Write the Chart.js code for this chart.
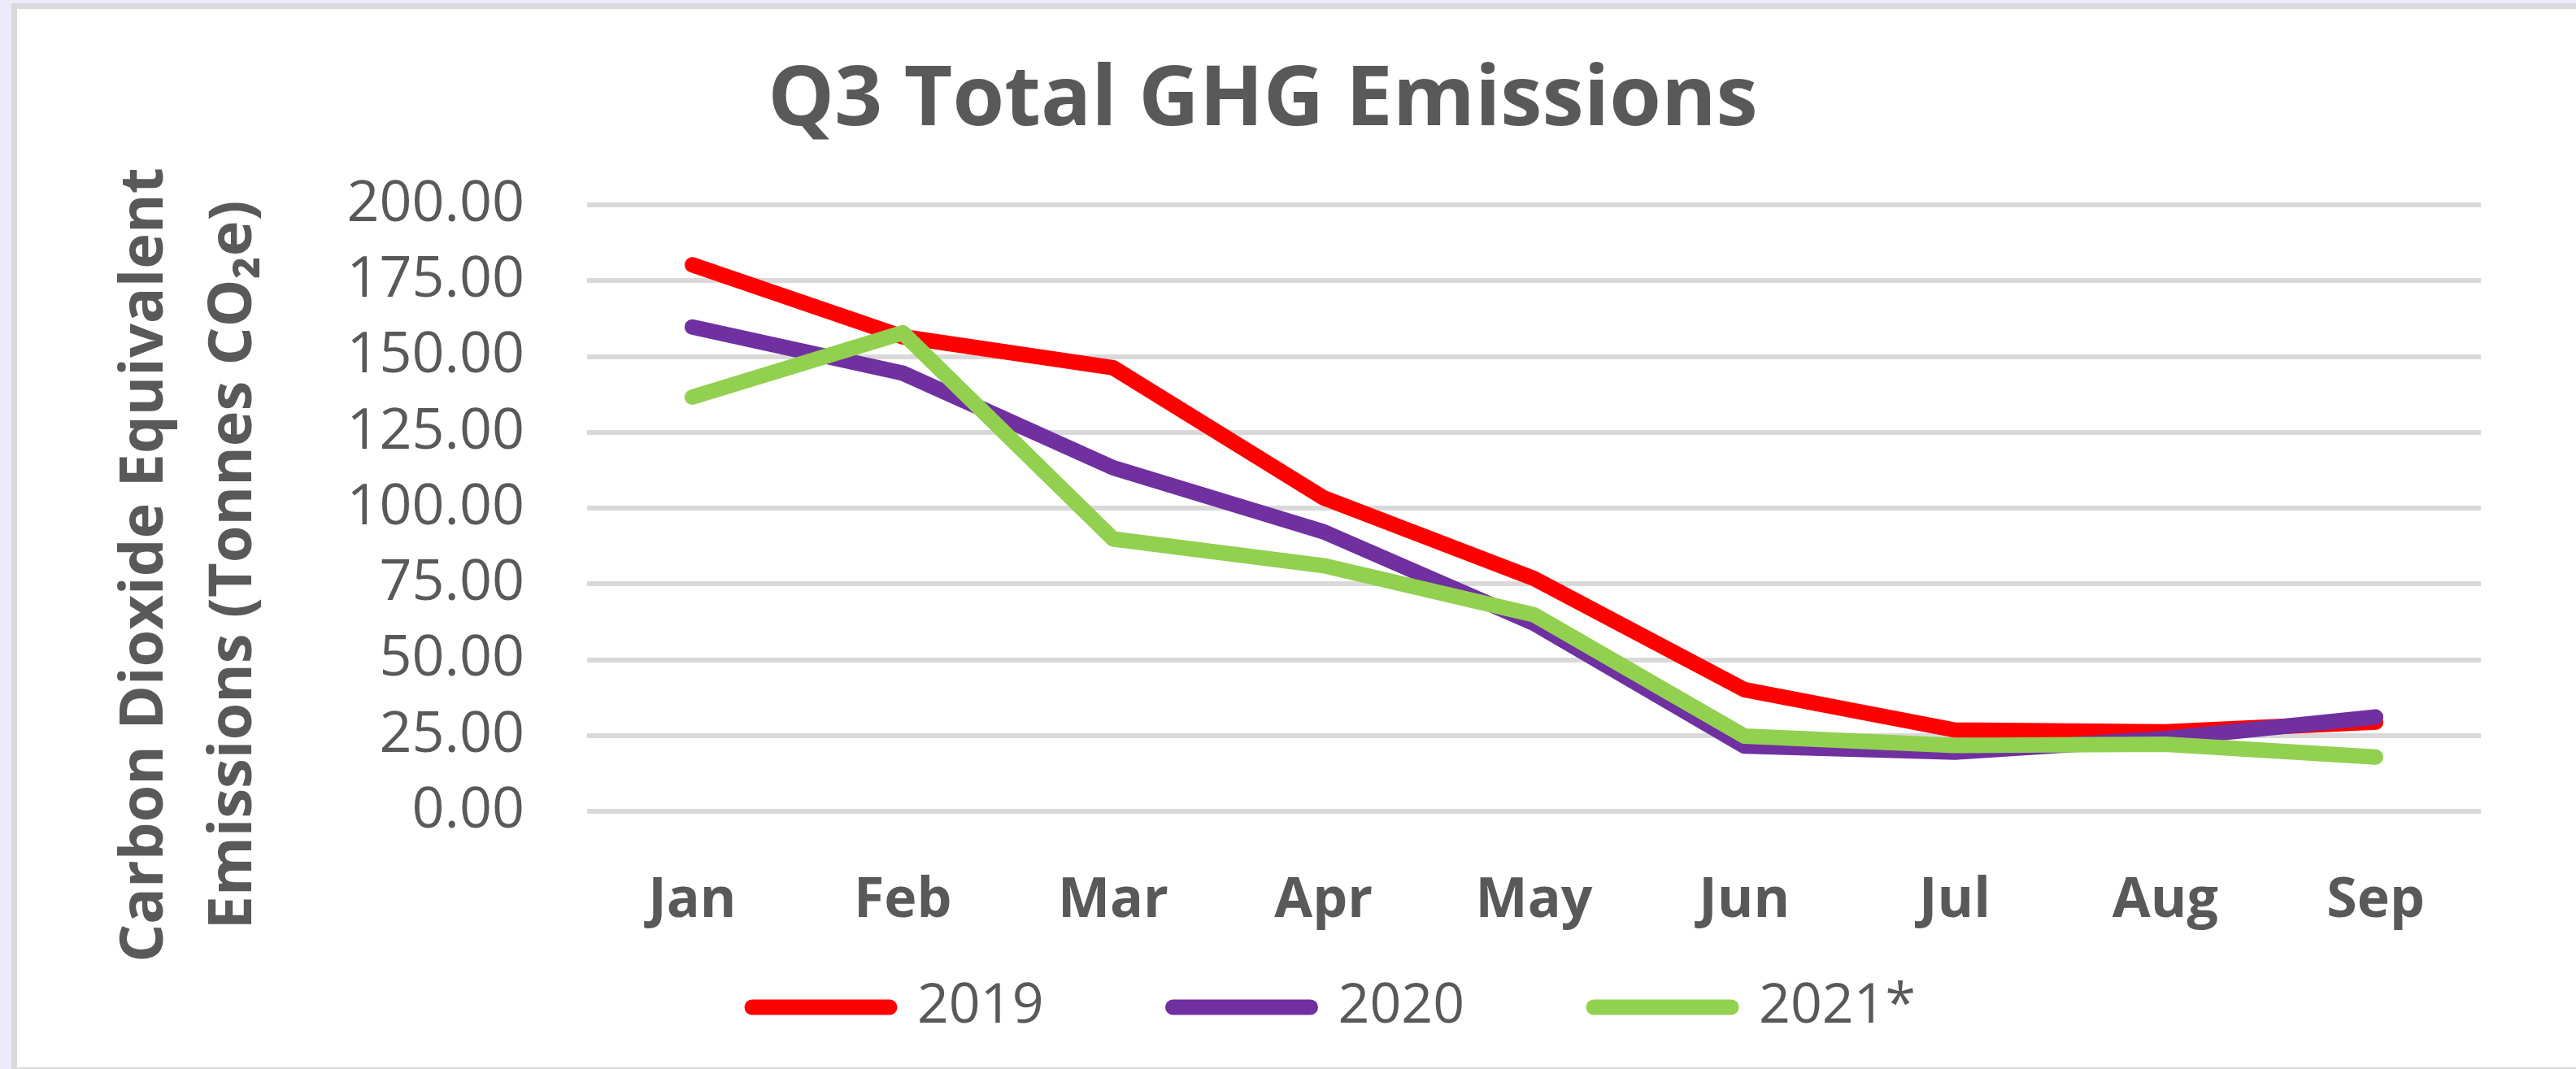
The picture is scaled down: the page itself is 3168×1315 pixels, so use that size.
<!DOCTYPE html>
<html>
<head>
<meta charset="utf-8">
<script src="https://cdn.jsdelivr.net/npm/chart.js@4.4.1/dist/chart.umd.min.js"></script>
<style>
  html, body { margin: 0; padding: 0; background: #ffffff; }
  #wrap { width: 3168px; height: 1315px; }
</style>
</head>
<body>
<div id="wrap"><canvas id="c" width="3168" height="1315"></canvas></div>
<script>
// ---- data ----
const months = ['Jan', 'Feb', 'Mar', 'Apr', 'May', 'Jun', 'Jul', 'Aug', 'Sep'];
const seriesNames = ['2019', '2020', '2021*'];
const values2019 = [180.2, 156.5, 146.3, 103.4, 76.8, 40.1, 26.8, 26.2, 29.4];
const values2020 = [159.7, 144.5, 113.3, 92.2, 62.0, 21.5, 19.5, 24.0, 31.1];
const values2021 = [136.6, 157.8, 89.8, 81.0, 64.8, 24.8, 21.7, 22.1, 17.9];
const yTicks = [0, 25, 50, 75, 100, 125, 150, 175, 200];
const chartTitle = 'Q3 Total GHG Emissions';
const yTitleLines = ['Carbon Dioxide Equivalent', 'Emissions (Tonnes CO\u2082e)'];

// ---- styles ----
const TEXT = '#595959';
const FONT = '"Open Sans", "Noto Sans", sans-serif';
const colors = ['#FF0000', '#7030A0', '#92D050'];
const drawOrder = [3, 2, 1];
const LINE_W = 19;

const frame = {
  id: 'frame',
  beforeDraw(chart) {
    const ctx = chart.ctx;
    ctx.save();
    ctx.fillStyle = '#EBEBFC';
    ctx.fillRect(0, 0, chart.width, chart.height);
    ctx.fillStyle = '#D9D9D9';
    ctx.fillRect(14, 4, chart.width - 14, chart.height - 4);
    ctx.fillStyle = '#FFFFFF';
    ctx.fillRect(21, 11, chart.width - 21, chart.height - 13);
    ctx.restore();
  }
};

// let the x tick labels draw below the (deliberately short) x-axis box
const labelRoom = {
  id: 'labelRoom',
  afterLayout(chart) {
    const s = chart.scales.x;
    s.bottom = s.top + 200;
  }
};

const texts = {
  id: 'texts',
  afterDraw(chart) {
    const ctx = chart.ctx;
    ctx.save();
    ctx.fillStyle = TEXT;
    ctx.textAlign = 'center';
    ctx.textBaseline = 'alphabetic';
    ctx.font = 'bold 103px ' + FONT;
    ctx.fillText(chartTitle, 1553, 154);
    ctx.font = 'bold 74px ' + FONT;
    const baselines = [200, 309];
    yTitleLines.forEach((t, i) => {
      ctx.save();
      ctx.translate(baselines[i], 695);
      ctx.rotate(-Math.PI / 2);
      ctx.fillText(t, 0, 0);
      ctx.restore();
    });
    ctx.restore();
  }
};

const allValues = [values2019, values2020, values2021];

new Chart(document.getElementById('c'), {
  type: 'line',
  data: {
    labels: months,
    datasets: seriesNames.map((name, i) => ({
      label: name,
      data: allValues[i],
      borderColor: colors[i],
      backgroundColor: colors[i],
      borderWidth: LINE_W,
      borderCapStyle: 'round',
      borderJoinStyle: 'round',
      pointRadius: 0,
      pointHoverRadius: 0,
      tension: 0,
      fill: false,
      order: drawOrder[i]
    }))
  },
  options: {
    responsive: false,
    animation: false,
    devicePixelRatio: 1,
    layout: { padding: { left: 230, right: 117, top: 252, bottom: 32 } },
    scales: {
      x: {
        offset: true,
        grid: { display: false, drawTicks: false },
        border: { display: false },
        ticks: {
          color: TEXT,
          padding: 70,
          font: { family: FONT, size: 68, weight: 'bold' },
          maxRotation: 0,
          autoSkip: false
        },
        afterFit(scale) { scale.height = 48; }
      },
      y: {
        min: 0,
        max: 200,
        afterBuildTicks(scale) { scale.ticks = yTicks.map(v => ({ value: v })); },
        grid: { color: '#D9D9D9', lineWidth: 6, drawTicks: false },
        border: { display: false },
        ticks: {
          color: TEXT,
          padding: 77,
          font: { family: FONT, size: 70 },
          callback: (v) => Number(v).toFixed(2)
        },
        afterFit(scale) { scale.width = 492; }
      }
    },
    plugins: {
      title: { display: false },
      tooltip: { enabled: false },
      legend: {
        display: true,
        position: 'bottom',
        align: 'center',
        labels: {
          color: TEXT,
          font: { family: FONT, size: 68 },
          usePointStyle: true,
          pointStyle: 'line',
          pointStyleWidth: 169,
          padding: 159,
          generateLabels: (chart) => chart.data.datasets.map((ds, i) => ({
            text: ds.label,
            fillStyle: ds.borderColor,
            strokeStyle: ds.borderColor,
            lineWidth: LINE_W,
            lineCap: 'round',
            pointStyle: 'line',
            fontColor: TEXT,
            hidden: false,
            datasetIndex: i
          }))
        }
      }
    }
  },
  plugins: [frame, labelRoom, texts]
});
</script>
</body>
</html>
